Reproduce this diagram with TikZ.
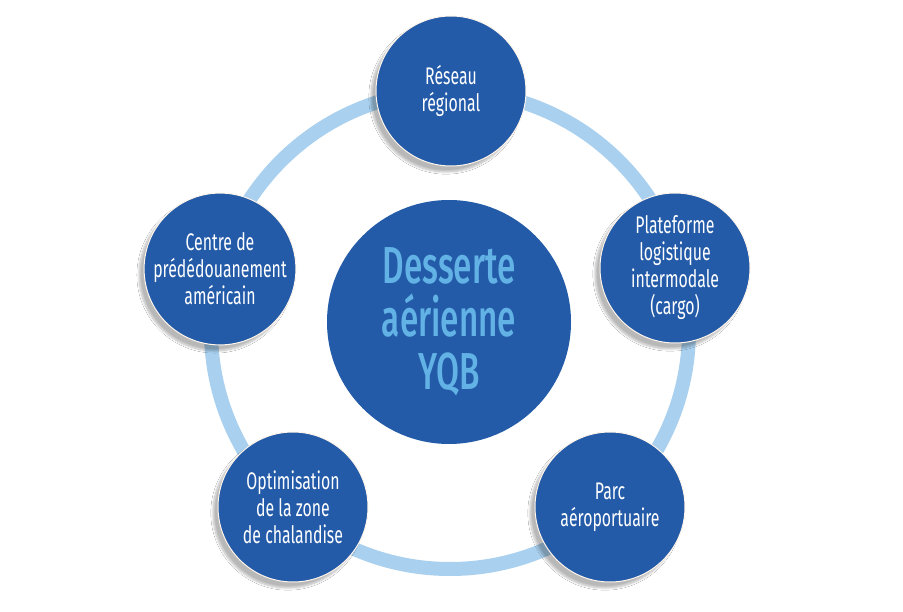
\documentclass[tikz,border=0pt]{standalone}
\usepackage{fontspec}
\setmainfont{Fira Sans}
\newfontfamily\condfont[FakeStretch=0.66]{Fira Sans}
\newfontfamily\condbold[FakeStretch=0.64]{Fira Sans Medium}
\usetikzlibrary{shadows.blur}
\definecolor{darkblue}{HTML}{235BA8}
\definecolor{ringblue}{HTML}{A9D0EE}
\definecolor{lightblue}{HTML}{62B2E6}
\tikzset{
  sat/.style={circle, fill=darkblue, draw=white!92!orange, line width=1pt,
    minimum size=150pt, inner sep=0pt, align=center, text=white,
    font=\condfont\fontsize{24}{27}\selectfont,
    blur shadow={shadow xshift=-5pt, shadow yshift=-6pt, shadow blur steps=10, shadow opacity=28}},
  hub/.style={circle, fill=darkblue, minimum size=244pt, inner sep=0pt, align=center,
    text=lightblue, font=\condbold\fontsize{52}{53}\selectfont},
  ring/.style={draw=ringblue, line width=14pt}
}
\begin{document}
\begin{tikzpicture}[x=1pt,y=-1pt]
\useasboundingbox (0,0) rectangle (903,612);
\fill[white] (0,0) rectangle (903,612);
\coordinate (rc) at (450,330);
\draw[ring] (rc) circle[radius=239];
\node[hub] (hub) at (449,322) {Desserte\\aérienne\\YQB};
\node[sat] (top) at (451,91) {Réseau\\régional};
\node[sat] (right) at (675,268) {Plateforme\\logistique\\intermodale\\(cargo)};
\node[sat] (br) at (610,507) {Parc\\aéroportuaire};
\node[sat] (bl) at (293,507) {Optimisation\\de la zone\\de chalandise};
\node[sat] (left) at (220,269) {Centre de\\prédédouanement\\américain};
\end{tikzpicture}
\end{document}
